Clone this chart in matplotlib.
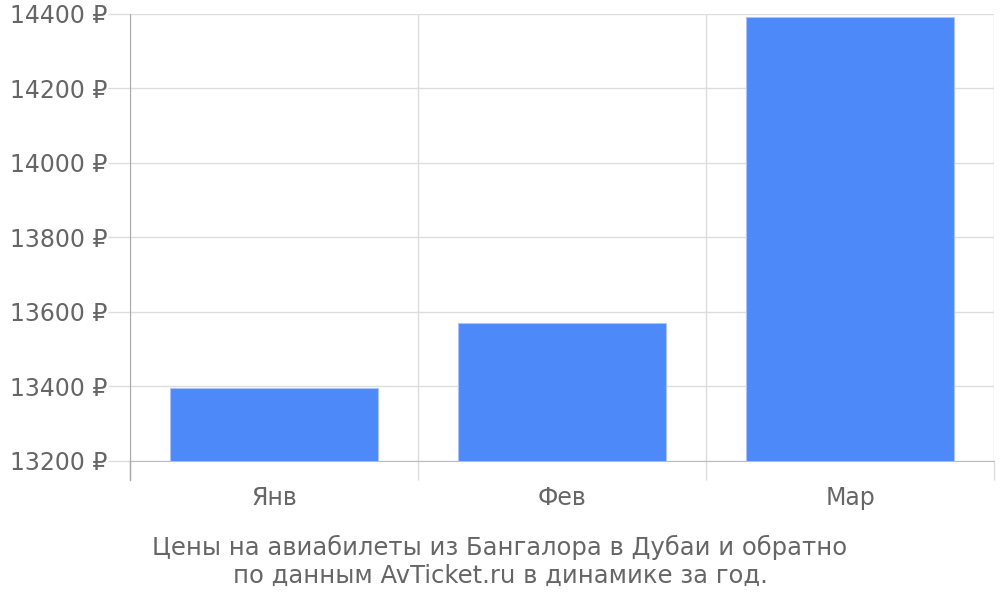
import matplotlib.pyplot as plt
import numpy as np

months = ["Янв", "Фев", "Мар"]
prices = [13396, 13571, 14392]
y_ticks = [13200, 13400, 13600, 13800, 14000, 14200, 14400]

fig = plt.figure(figsize=(10, 6), dpi=100)
ax = fig.add_axes([0.13, 0.2317, 0.864, 0.745])

x = np.arange(len(months))
ax.bar(x, prices, width=0.72, color="#4d89f9", edgecolor="#a8c4fb", linewidth=0.8, zorder=3)

ax.set_xlim(-0.5, len(months) - 0.5)
ax.set_ylim(13200, 14400)

ax.set_yticks(y_ticks)
ax.set_yticklabels([f"{v} ₽" for v in y_ticks], fontsize=17, color="#666666")
ax.tick_params(axis="y", length=16, color="#dddddd", width=1, pad=0)

ax.set_xticks(x)
ax.set_xticklabels(months, fontsize=17, color="#666666")
ax.tick_params(axis="x", which="major", length=0, pad=18)
ax.set_xticks(np.arange(-0.5, len(months)), minor=True)
ax.tick_params(axis="x", which="minor", length=14, color="#dddddd", width=1)

ax.grid(axis="y", color="#dddddd", linewidth=1, zorder=0)
ax.grid(axis="x", which="minor", color="#dddddd", linewidth=1, zorder=0)

for s in ["top", "right"]:
    ax.spines[s].set_visible(False)
ax.spines["left"].set_color("#aaaaaa")
ax.spines["left"].set_bounds(13200, 14400)
ax.spines["bottom"].set_color("#bbbbbb")

# left axis line extends below like the tick marks
ax.plot([-0.5, -0.5], [13200, 13200 - 19 / 0.3725], color="#aaaaaa", linewidth=1,
        clip_on=False, zorder=4)

fig.text(0.5, 0.065, "Цены на авиабилеты из Бангалора в Дубаи и обратно\nпо данным AvTicket.ru в динамике за год.",
         ha="center", va="center", fontsize=17.5, color="#666666", linespacing=1.2)

fig.savefig("out.png")
